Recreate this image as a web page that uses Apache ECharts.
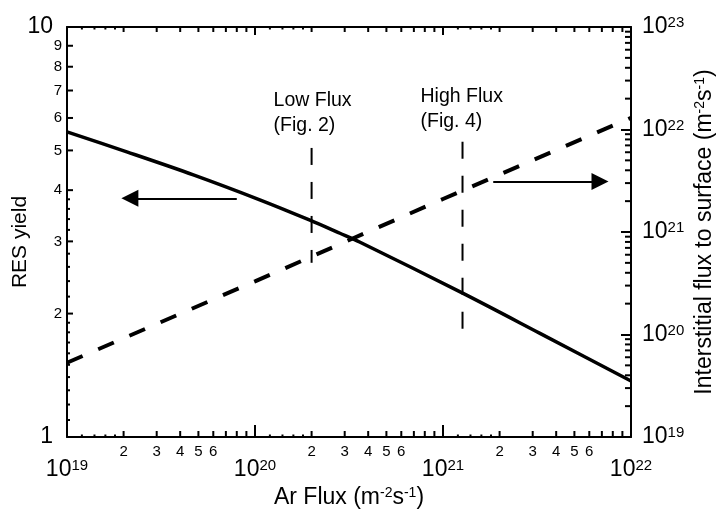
<!DOCTYPE html>
<html>
<head>
<meta charset="utf-8">
<script src="https://cdn.jsdelivr.net/npm/echarts@6/dist/echarts.min.js"></script>
<style>
html, body { margin: 0; padding: 0; background: #fff; }
#chart { width: 716px; height: 512px; }
</style>
</head>
<body>
<div id="chart"></div>
<script>
// RES yield curve (solid, left axis)
const fluxSolid = [1e19, 2.08e19, 4.7e19, 1.06e20, 1.96e20, 2.83e20, 3.6e20, 1.28e21, 3.28e21, 1e22];
const resYield = [5.55, 4.96, 4.36, 3.79, 3.38, 3.14, 2.99, 2.24, 1.79, 1.37];

// interstitial flux (dashed, right axis)
const fluxDashed = [1e19, 1e20, 1e21, 1e22];
const interstitial = [5.3e19, 3.3e20, 2.1e21, 1.3e22];

// vertical markers
const lowFluxX = 2e20;
const lowFluxY = [5.07, 2.66];
const highFluxX = 1.27e21;
const highFluxY = [5.25, 1.79];

// arrows: [tail, head] in (flux, yield)
const leftArrow = [[8.0e19, 3.82], [2.16e19, 3.82]];
const rightArrow = [[1.85e21, 4.2], [6.84e21, 4.2]];

// minor tick positions / labels
const xDecades = [1e19, 1e20, 1e21];
const midMantissa = [2, 3, 4, 5, 6, 7, 8, 9];
const fineMantissa = [1.2, 1.4, 1.6, 1.8];
const xMinorLabels = [2, 3, 4, 5, 6];
const leftMid = [2, 3, 4, 5, 6, 7, 8, 9];
const leftFine = [1.1, 1.2, 1.3, 1.4, 1.5, 1.6, 1.7, 1.8, 1.9, 2.2, 2.4, 2.6, 2.8, 3.2, 3.4, 3.6, 3.8];
const rightDecades = [1e19, 1e20, 1e21, 1e22];

const FONT = '"Liberation Sans", Arial, Helvetica, sans-serif';

const xTicks = [];
xDecades.forEach(d => {
  fineMantissa.forEach(m => xTicks.push({ v: m * d, len: 2.5, lenTop: 2.5, label: '' }));
  midMantissa.forEach(m => xTicks.push({ v: m * d, len: 6, lenTop: 5, label: xMinorLabels.includes(m) ? String(m) : '' }));
});
const leftTicks = [];
leftFine.forEach(v => leftTicks.push({ v: v, len: 3, label: '' }));
leftMid.forEach(v => leftTicks.push({ v: v, len: 6, label: String(v) }));
const rightTicks = [];
rightDecades.forEach(d => midMantissa.forEach(m => rightTicks.push({ v: m * d, len: 6 })));

function tickLine(x1, y1, x2, y2) {
  return { type: 'line', shape: { x1: x1, y1: y1, x2: x2, y2: y2 }, style: { stroke: '#000', lineWidth: 2 } };
}

function renderXTick(params, api) {
  const t = xTicks[params.dataIndex];
  const cs = params.coordSys;
  const x = api.coord([api.value(0), 1])[0];
  const bottom = cs.y + cs.height;
  const kids = [tickLine(x, bottom, x, bottom - t.len), tickLine(x, cs.y, x, cs.y + t.lenTop)];
  if (t.label) {
    kids.push({ type: 'text', x: x, y: bottom + 15,
      style: { text: t.label, font: '15px ' + FONT, fill: '#000', align: 'center', verticalAlign: 'middle' } });
  }
  return { type: 'group', children: kids };
}

function renderLeftTick(params, api) {
  const t = leftTicks[params.dataIndex];
  const cs = params.coordSys;
  const y = api.coord([1e19, api.value(1)])[1];
  const kids = [tickLine(cs.x, y, cs.x + t.len, y)];
  if (t.label) {
    kids.push({ type: 'text', x: cs.x - 5, y: y,
      style: { text: t.label, font: '15px ' + FONT, fill: '#000', align: 'right', verticalAlign: 'middle' } });
  }
  return { type: 'group', children: kids };
}

function renderRightTick(params, api) {
  const t = rightTicks[params.dataIndex];
  const cs = params.coordSys;
  const y = api.coord([1e19, api.value(1)])[1];
  const xr = cs.x + cs.width;
  return tickLine(xr, y, xr - t.len, y);
}

const powRich = {
  b: { fontSize: 23, fontFamily: FONT, color: '#000' },
  s: { fontSize: 15, fontFamily: FONT, color: '#000', verticalAlign: 'top' }
};
const powLabel = v => '{b|10}{s|' + Math.round(Math.log10(v)) + '}';

const nameRich = {
  n: { fontSize: 23, fontFamily: FONT, color: '#000' },
  s: { fontSize: 14, fontFamily: FONT, color: '#000', verticalAlign: 'top' }
};

const chart = echarts.init(document.getElementById('chart'), null, { renderer: 'canvas' });

chart.setOption({
  animation: false,
  backgroundColor: '#fff',
  grid: { left: 67, right: 85, top: 27, bottom: 75, containLabel: false, outerBoundsMode: 'none' },
  xAxis: [{
    type: 'log', logBase: 10, min: 1e19, max: 1e22,
    position: 'bottom',
    name: '{n|Ar Flux (m}{s|-2}{n|s}{s|-1}{n|)}',
    nameLocation: 'middle', nameGap: 49, nameMoveOverlap: false,
    nameTextStyle: { rich: nameRich },
    axisLine: { lineStyle: { color: '#000', width: 2 } },
    axisTick: { inside: true, length: 12, lineStyle: { color: '#000', width: 2 } },
    axisLabel: { formatter: powLabel, rich: powRich, margin: 21 },
    splitLine: { show: false },
    minorTick: { show: false }
  }, {
    type: 'log', logBase: 10, min: 1e19, max: 1e22,
    position: 'top',
    axisLine: { lineStyle: { color: '#000', width: 2 } },
    axisTick: { inside: true, length: 8, lineStyle: { color: '#000', width: 2 } },
    axisLabel: { show: false },
    splitLine: { show: false }
  }],
  yAxis: [{
    type: 'log', logBase: 10, min: 1, max: 10,
    position: 'left',
    name: 'RES yield',
    nameLocation: 'middle', nameRotate: 90, nameGap: 36, nameMoveOverlap: false,
    nameTextStyle: { fontSize: 21, fontFamily: FONT, color: '#000', padding: [0, 20, 0, 0] },
    axisLine: { lineStyle: { color: '#000', width: 2 } },
    axisTick: { inside: true, length: 10, lineStyle: { color: '#000', width: 2 } },
    axisLabel: { fontSize: 23, fontFamily: FONT, color: '#000', margin: 14 },
    splitLine: { show: false }
  }, {
    type: 'log', logBase: 10, min: 1e19, max: 1e23,
    position: 'right',
    name: '{n|Interstitial flux to surface (m}{s|-2}{n|s}{s|-1}{n|)}',
    nameLocation: 'middle', nameRotate: 90, nameGap: 62, nameMoveOverlap: false,
    nameTextStyle: { rich: nameRich },
    axisLine: { lineStyle: { color: '#000', width: 2 } },
    axisTick: { inside: true, length: 10, lineStyle: { color: '#000', width: 2 } },
    axisLabel: { formatter: powLabel, rich: powRich, margin: 11 },
    splitLine: { show: false }
  }],
  series: [{
    name: 'RES yield',
    type: 'line',
    data: fluxSolid.map((x, i) => [x, resYield[i]]),
    showSymbol: false, smooth: 0.3,
    lineStyle: { color: '#000', width: 3.5 }
  }, {
    name: 'Interstitial flux',
    type: 'line', yAxisIndex: 1,
    data: fluxDashed.map((x, i) => [x, interstitial[i]]),
    showSymbol: false,
    lineStyle: { color: '#000', width: 4, type: [17, 17] }
  }, {
    type: 'line',
    data: lowFluxY.map(y => [lowFluxX, y]),
    showSymbol: false,
    lineStyle: { color: '#000', width: 2, type: [17, 17] }
  }, {
    type: 'line',
    data: highFluxY.map(y => [highFluxX, y]),
    showSymbol: false,
    lineStyle: { color: '#000', width: 2, type: [17, 17] }
  }, {
    type: 'scatter',
    symbolSize: 1,
    itemStyle: { color: 'rgba(0,0,0,0)' },
    data: [
      { value: [lowFluxX, lowFluxY[0]], label: { formatter: 'Low Flux\n(Fig. 2)', offset: [-38, 0], distance: 9 } },
      { value: [highFluxX, highFluxY[0]], label: { formatter: 'High Flux\n(Fig. 4)', offset: [-42, 0], distance: 7 } }
    ],
    label: { show: true, position: 'top', align: 'left', fontSize: 19.5, lineHeight: 25, fontFamily: FONT, color: '#000', opacity: 1 }
  }, {
    type: 'lines',
    coordinateSystem: 'cartesian2d',
    symbol: ['none', 'triangle'],
    symbolSize: 17,
    lineStyle: { color: '#000', width: 2, opacity: 1 },
    itemStyle: { color: '#000' },
    data: [{ coords: leftArrow }, { coords: rightArrow }]
  }, {
    type: 'custom',
    renderItem: renderXTick,
    data: xTicks.map(t => [t.v, 1]),
    clip: false, silent: true
  }, {
    type: 'custom',
    renderItem: renderLeftTick,
    data: leftTicks.map(t => [1e19, t.v]),
    clip: false, silent: true
  }, {
    type: 'custom', yAxisIndex: 1,
    renderItem: renderRightTick,
    data: rightTicks.map(t => [1e19, t.v]),
    clip: false, silent: true
  }]
});
</script>
</body>
</html>
